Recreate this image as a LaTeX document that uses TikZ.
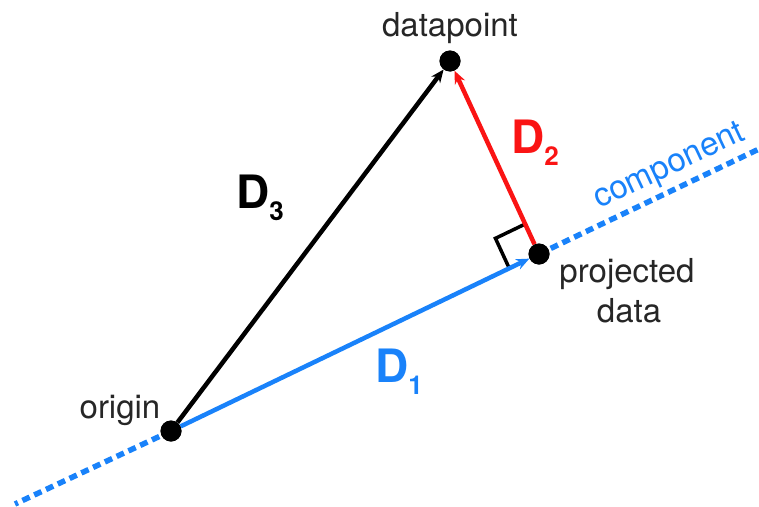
\documentclass[tikz,border=0pt]{standalone}
\usepackage{fontspec}
\setmainfont{TeX Gyre Heros}
\usetikzlibrary{arrows.meta,calc}
\definecolor{compblue}{RGB}{25,130,250}
\definecolor{projred}{RGB}{250,20,20}
\tikzset{
  dot/.style={circle,fill=black,minimum size=21pt,inner sep=0pt},
  lbl/.style={font=\fontsize{33}{37}\selectfont,text=black!85,inner sep=0pt},
  dlbl/.style={font=\fontsize{46}{48}\selectfont\bfseries,inner sep=0pt,anchor=base west},
  vec/.style={line width=4.5pt,-{Stealth[length=13pt,width=11pt]}},
  compline/.style={compblue,line width=5.5pt,dash pattern=on 8pt off 5pt}
}
\newcommand{\dsub}[1]{\raisebox{-12pt}{\fontsize{26}{28}\selectfont #1}}
\begin{document}
\begin{tikzpicture}[x=1pt,y=-1pt]
\useasboundingbox (0,0) rectangle (759,506);
\coordinate (cs) at (15,504);
\coordinate (ce) at (759,149);
\node[dot] (o) at (171,431) {};
\node[dot] (d) at (450,61) {};
\node[dot] (p) at (539,254) {};
% component line
\draw[compline] (o.center) -- (cs);
\draw[compline] (p.center) -- (ce);
% right angle marker
\coordinate (r1) at ($(p.center)!33pt!(d.center)$);
\coordinate (r2) at ($(p.center)!33pt!(o.center)$);
\coordinate (rc) at ($(r1)+(r2)-(p.center)$);
\draw[line width=3.5pt] (r1) -- (rc) -- (r2);
% vectors
\draw[vec,compblue] (o) -- (p);
\draw[vec,black] (o) -- (d);
\draw[vec,projred] (p) -- (d);
\node[dot] at (p) {};
\node[dot] at (o) {};
\node[dot] at (d) {};
% labels
\node[lbl,anchor=base] (tdp) at (450,36) {datapoint};
\node[lbl,anchor=base] (tor) at (120,418) {origin};
\node[lbl,anchor=base] (tpr) at (627,282) {projected};
\node[lbl,anchor=base] (tda) at (629,322) {data};
\node[lbl,text=compblue,rotate=25.3,anchor=base] (tco) at (673,174) {component};
\node[dlbl,text=black] (d3) at (236,208) {D\dsub{3}};
\node[dlbl,text=projred] (d2) at (511,153) {D\dsub{2}};
\node[dlbl,text=compblue] (d1) at (375,382) {D\dsub{1}};
\end{tikzpicture}
\end{document}
